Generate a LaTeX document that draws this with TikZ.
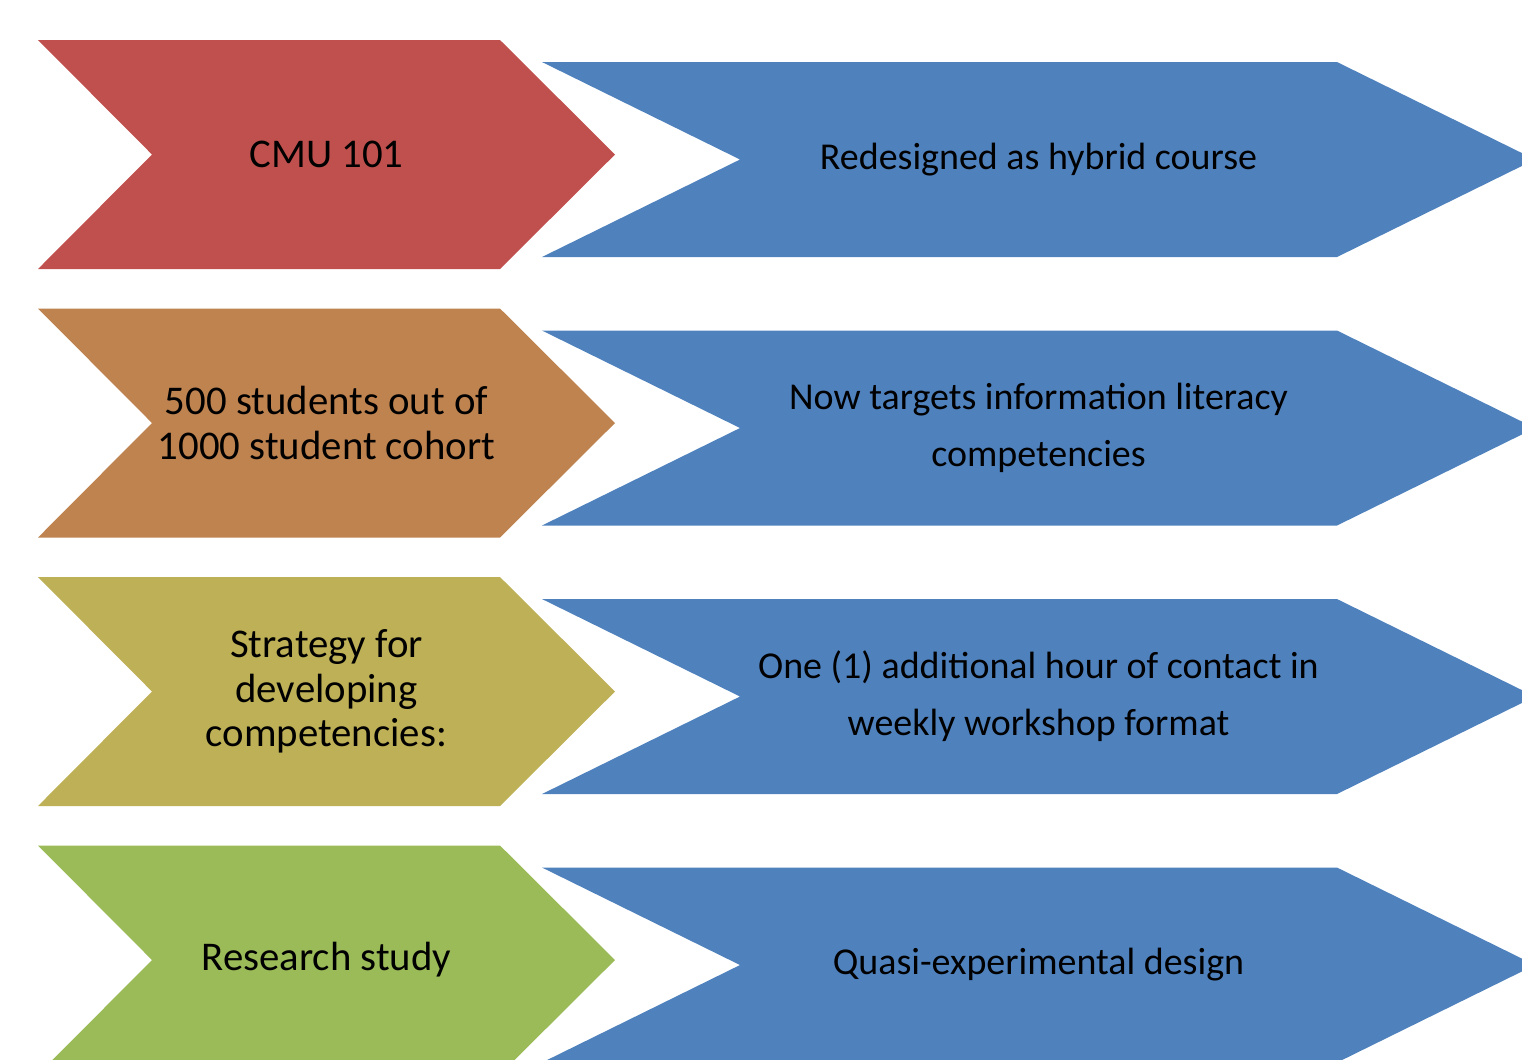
\documentclass[tikz,border=0pt]{standalone}
\usepackage{fontspec}
\setmainfont{Carlito}
\usepackage{tikz}
\usetikzlibrary{positioning}
\definecolor{cmu-red}{HTML}{C0504D}
\definecolor{cmu-orange}{HTML}{BF8350}
\definecolor{cmu-olive}{HTML}{BEB056}
\definecolor{cmu-green}{HTML}{9BBB59}
\definecolor{cmu-blue}{HTML}{4F81BD}

\begin{document}
\begin{tikzpicture}[x=0.01cm, y=-0.01cm,
	lefttext/.style={align=center, inner sep=0pt, font=\fontsize{11.6}{12.6}\selectfont},
	righttext/.style={align=center, inner sep=0pt, font=\fontsize{10.8}{16.2}\selectfont}]
	\useasboundingbox (0,0) rectangle (1522,1059);
	\clip (0,0) rectangle (1522,1059);
	% chevrons, one row each
	\foreach \col [count=\i from 0] in {cmu-red, cmu-orange, cmu-olive, cmu-green} {
		\pgfmathsetmacro\t{40+268.5*\i}
		\pgfmathsetmacro\b{62+268.5*\i}
		\fill[\col] (38,\t) -- (500,\t) -- (615,\t+114.5) -- (500,\t+229) -- (38,\t+229) -- (152,\t+114.5) -- cycle;
		\fill[cmu-blue] (542,\b) -- (1337,\b) -- (1535,\b+97.5) -- (1337,\b+195) -- (542,\b+195) -- (740,\b+97.5) -- cycle;
	}
	\node[lefttext] (cmu) at (326.5,154.5) {CMU 101};
	\node[lefttext] (cohort) at (326.5,423) {500 students out of\\1000 student cohort};
	\node[lefttext] (strategy) at (326.5,691.5) {Strategy for\\developing\\competencies:};
	\node[lefttext] (study) at (326.5,960) {Research study};
	\node[righttext] (hybrid) at (1038.5,159.5) {Redesigned as hybrid course};
	\node[righttext] (literacy) at (1038.5,428) {Now targets information literacy\\competencies};
	\node[righttext] (workshop) at (1038.5,696.5) {One (1) additional hour of contact in\\weekly workshop format};
	\node[righttext] (design) at (1038.5,965) {Quasi-experimental design};
\end{tikzpicture}
\end{document}
